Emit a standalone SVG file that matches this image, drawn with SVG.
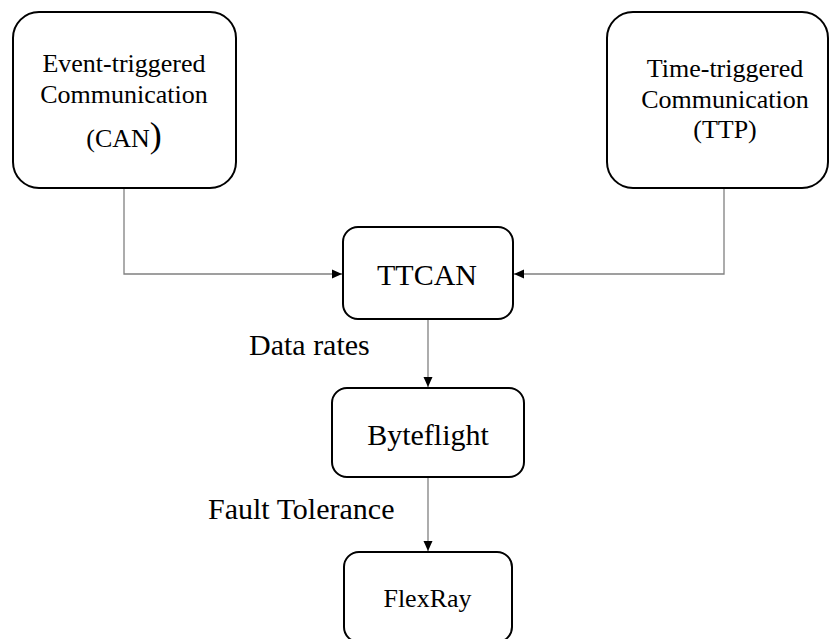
<svg xmlns="http://www.w3.org/2000/svg" width="829" height="639" viewBox="0 0 829 639">
<style>
.box{fill:#fff;stroke:#000;stroke-width:2}
.t{fill:#000;text-anchor:middle}
.lbl{fill:#000}
.c{fill:none;stroke:#808080;stroke-width:1.3}
</style>
<defs>
<marker id="ah" markerWidth="10" markerHeight="10" refX="10" refY="5" orient="auto" markerUnits="userSpaceOnUse">
<path d="M0,0.5 L10,5 L0,9.5 Z" fill="#000"/>
</marker>
</defs>
<rect width="829" height="639" fill="#fff"/>
<g id="connectors">
<path class="c" d="M124,189 V274 H342" marker-end="url(#ah)"/>
<path class="c" d="M724,189 V274 H514" marker-end="url(#ah)"/>
<path class="c" d="M428,320 V387" marker-end="url(#ah)"/>
<path class="c" d="M428,478 V551" marker-end="url(#ah)"/>
</g>
<g font-family="Liberation Serif, DejaVu Serif, serif">
<g id="event">
<rect class="box" x="13" y="12" width="223" height="176" rx="26"/>
<text class="t" x="124" y="72" font-size="26">Event-triggered</text>
<text class="t" x="124" y="103" font-size="26">Communication</text>
<text class="t" x="124" y="147" font-size="26">(CAN<tspan font-size="36">)</tspan></text>
</g>
<g id="time">
<rect class="box" x="607" y="12" width="221" height="176" rx="26"/>
<text class="t" x="725" y="77" font-size="26">Time-triggered</text>
<text class="t" x="725" y="108" font-size="26">Communication</text>
<text class="t" x="725" y="138" font-size="26">(TTP)</text>
</g>
<g id="ttcan">
<rect class="box" x="343" y="227" width="170" height="92" rx="15"/>
<text class="t" x="427" y="285" font-size="30">TTCAN</text>
</g>
<g id="byteflight">
<rect class="box" x="332" y="388" width="192" height="89" rx="15"/>
<text class="t" x="428" y="445" font-size="30">Byteflight</text>
</g>
<g id="flexray">
<rect class="box" x="344" y="552" width="168" height="90" rx="15"/>
<text class="t" x="427.5" y="607" font-size="26">FlexRay</text>
</g>
<text class="lbl" x="249" y="355" font-size="30">Data rates</text>
<text class="lbl" x="208" y="519" font-size="30">Fault Tolerance</text>
</g>
</svg>
